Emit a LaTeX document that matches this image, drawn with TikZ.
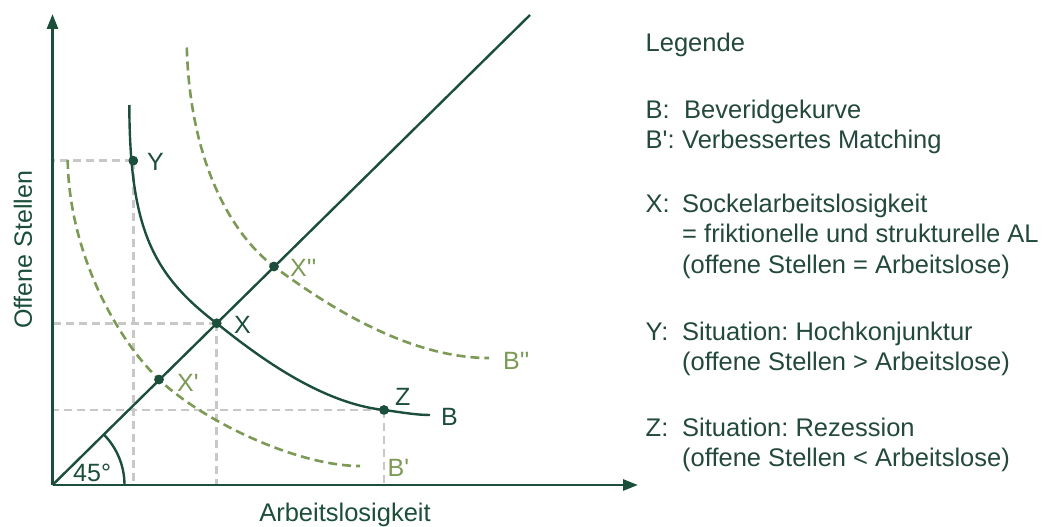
\documentclass[tikz,border=0pt]{standalone}
\usepackage{fontspec}
\setmainfont{Liberation Sans}[Ligatures=TeXOff]
\usetikzlibrary{arrows.meta}
\definecolor{dgreen}{HTML}{1B4E3B}
\definecolor{olive}{HTML}{7C9A55}
\definecolor{lgrey}{HTML}{C8C8C8}
\definecolor{txtc}{HTML}{23493B}
\frenchspacing
\begin{document}
\begin{tikzpicture}[x=1pt,y=1pt,
  lbl/.style={font=\fontsize{25}{30}\selectfont, inner sep=0pt, anchor=base west, text=dgreen},
  olbl/.style={lbl, text=olive},
  leg/.style={font=\fontsize{25.5}{30}\selectfont, inner sep=0pt, anchor=base west, text=txtc},
  axis/.style={draw=dgreen, line width=2.8pt, -{Triangle[length=15pt,width=11pt]}},
  curve/.style={draw=dgreen, line width=2.4pt},
  ocurve/.style={draw=olive, line width=2.6pt, dash pattern=on 9pt off 5pt},
  guide/.style={draw=lgrey, line width=2.5pt, dash pattern=on 8pt off 5pt},
  pt/.style={circle, fill=dgreen, inner sep=0pt, minimum size=9.5pt}]
\useasboundingbox (0,0) rectangle (1042,-527);

% key coordinates
\coordinate (O) at (52.5,-485);
\coordinate (Yax) at (52.5,-14);
\coordinate (Xax) at (638,-485);
\coordinate (Dend) at (530,-15);
\coordinate (Btop) at (129.3,-105);
\coordinate (Bend) at (430,-415);
\coordinate (B1top) at (67.7,-160);
\coordinate (B1end) at (360,-466);
\coordinate (B2top) at (186.8,-47.5);
\coordinate (B2end) at (489,-358);

% points
\node[pt] (Y) at (133.3,-160.7) {};
\node[pt] (X) at (216.7,-323.3) {};
\node[pt] (Xa) at (159,-379.5) {};
\node[pt] (Xb) at (274,-266.5) {};
\node[pt] (Z) at (384,-410) {};

% guide lines
\draw[guide] (Y.center) -- (Y.center -| O);
\draw[guide] (X.center) -- (X.center -| O);
\draw[guide] (Z.center) -- (Z.center -| O);
\draw[guide] (Y.center) -- (Y.center |- O);
\draw[guide] (X.center) -- (X.center |- O);
\draw[guide] (Z.center) -- (Z.center |- O);

% shifted curves
\draw[ocurve] (B1top) .. controls (69,-250) and (114,-336) .. (Xa.center)
  .. controls (204,-422) and (298,-466) .. (B1end);
\draw[ocurve] (B2top) .. controls (190,-160) and (230,-233) .. (Xb.center)
  .. controls (330,-308) and (410,-358) .. (B2end);

% axes and 45 degree line
\draw[curve] (O) -- (Dend);
\draw[curve] (O) ++(72,0) arc[start angle=0, end angle=44.5, radius=72];
\draw[axis] (O) -- (Yax);
\draw[axis] (O) -- (Xax);

% Beveridge curve
\draw[curve] (Btop) .. controls (129.8,-228) and (152,-274) .. (X.center)
  .. controls (256.7,-355.3) and (320,-403) .. (Z.center)
  .. controls (400,-412) and (415,-415) .. (Bend);

% points on top
\foreach \p in {Y,X,Xa,Xb,Z} \fill[dgreen] (\p) circle (4.75pt);

% labels
\node[lbl] (lY) at (147,-170) {Y};
\node[lbl] (lX) at (234,-333) {X};
\node[olbl] (lXa) at (177,-391) {X'};
\node[olbl] (lXb) at (290,-276) {X''};
\node[lbl] (lZ) at (395,-405) {Z};
\node[lbl] (lB) at (441,-425) {B};
\node[olbl] (lB2) at (503,-369) {B''};
\node[olbl] (lB1) at (387.5,-476) {B'};
\node[lbl] (l45) at (73,-481) {45°};

% axis titles
\node[font=\fontsize{25}{30}\selectfont, text=dgreen, inner sep=0pt, rotate=90] (ylab) at (23,-250) {Offene Stellen};
\node[font=\fontsize{25.5}{30}\selectfont, text=dgreen, inner sep=0pt, anchor=base] (xlab) at (345,-521) {Arbeitslosigkeit};

% legend
\node[leg] (lg) at (645.5,-51.5) {Legende};
\node[leg] (lg1a) at (645.5,-118) {B:};
\node[leg] (lg1b) at (684,-118) {Beveridgekurve};
\node[leg] (lg2a) at (645.5,-148) {B':};
\node[leg] (lg2b) at (682,-148) {Verbessertes Matching};
\node[leg] (lg3a) at (645.5,-212) {X:};
\node[leg] (lg3b) at (682,-212) {Sockelarbeitslosigkeit};
\node[leg] (lg3c) at (682,-242) {= friktionelle und strukturelle AL};
\node[leg] (lg3d) at (682,-273) {(offene Stellen = Arbeitslose)};
\node[leg] (lg4a) at (645.5,-340) {Y:};
\node[leg] (lg4b) at (682,-340) {Situation: Hochkonjunktur};
\node[leg] (lg4c) at (682,-370) {(offene Stellen > Arbeitslose)};
\node[leg] (lg5a) at (645.5,-436) {Z:};
\node[leg] (lg5b) at (682,-436) {Situation: Rezession};
\node[leg] (lg5c) at (682,-466) {(offene Stellen < Arbeitslose)};
\end{tikzpicture}
\end{document}
